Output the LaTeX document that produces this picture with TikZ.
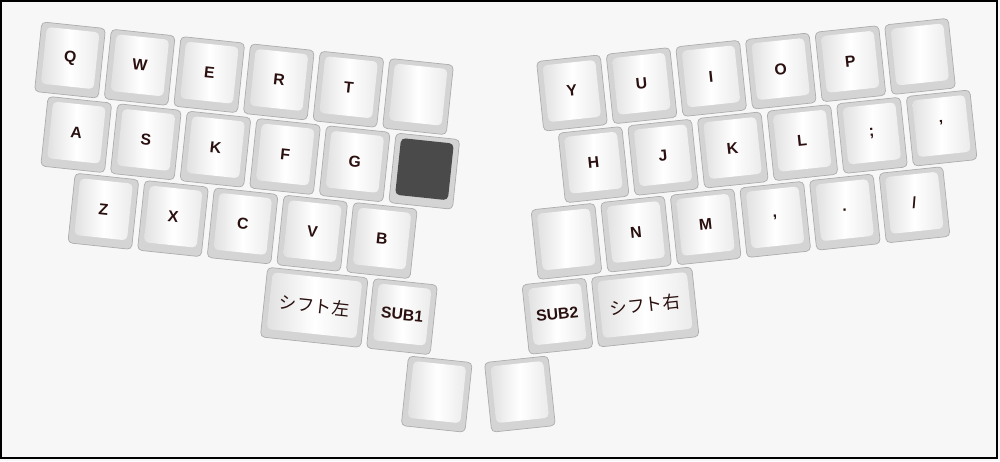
\documentclass[tikz,border=0pt]{standalone}
\usepackage{fontspec}
\setmainfont{Liberation Sans}
\newfontfamily\jpfont{Noto Sans CJK JP}
\usetikzlibrary{calc}
\definecolor{bgcol}{HTML}{F7F7F7}
\definecolor{labelcol}{HTML}{2B1010}
\definecolor{capcol}{HTML}{D4D4D4}
\definecolor{darkcol}{HTML}{4A4A4A}

\begin{document}
\begin{tikzpicture}[
      x=0.02cm, y=-0.02cm,
      keybody/.style={draw=black!32, fill=capcol, rounded corners=2.5pt, inner sep=0pt,
        minimum width=1.28cm, minimum height=1.4cm, transform shape},
      topbase/.style={rounded corners=2.5pt, inner sep=0pt, minimum width=1.06cm, minimum height=1.14cm,
        text=labelcol, font=\fontsize{9}{10}\selectfont\bfseries, transform shape},
      keytop/.style={topbase, left color=black!12, right color=black!8, middle color=white},
      wide/.style={minimum width=2.02cm},
      widetop/.style={minimum width=1.8cm, font=\fontsize{10}{11}\selectfont\jpfont},
      darktop/.style={topbase, fill=darkcol}
    ]
    \useasboundingbox (0,0) rectangle (1000,461);
    \fill[bgcol] (0,0) rectangle (1000,461);
    \draw[line width=1.2pt] (1,1) rectangle (997,458);
    % left half
    \begin{scope}[shift={(70,60)}, rotate=-6, x=1.4cm, y=-1.47cm]
      \foreach \lbl [count=\i from 0] in {Q,W,E,R,T,{}} {
        \node[keybody] (L0-\i) at (\i,0) {};
        \node[keytop] (L0-\i-top) at ($(L0-\i.center)!0.04cm!(L0-\i.north)$) {\lbl};
      }
      \foreach \lbl [count=\i from 0] in {A,S,K,F,G} {
        \node[keybody] (L1-\i) at (\i+0.2,1) {};
        \node[keytop] (L1-\i-top) at ($(L1-\i.center)!0.04cm!(L1-\i.north)$) {\lbl};
      }
      \node[keybody] (L1-5) at (5.2,1) {};
      \node[darktop] (L1-5-top) at ($(L1-5.center)!0.04cm!(L1-5.north)$) {};
      \foreach \lbl [count=\i from 0] in {Z,X,C,V,B} {
        \node[keybody] (L2-\i) at (\i+0.7,2) {};
        \node[keytop] (L2-\i-top) at ($(L2-\i.center)!0.04cm!(L2-\i.north)$) {\lbl};
      }
      \node[keybody, wide] (shiftL) at (3.84,3) {};
      \node[keytop, widetop] (shiftL-top) at ($(shiftL.center)!0.04cm!(shiftL.north)$) {シフト左};
      \node[keybody] (sub1) at (5.1,3) {};
      \node[keytop] (sub1-top) at ($(sub1.center)!0.04cm!(sub1.north)$) {SUB1};
      \node[keybody] (thumbL) at (5.71,4) {};
      \node[keytop] (thumbL-top) at ($(thumbL.center)!0.04cm!(thumbL.north)$) {};
    \end{scope}
    % right half
    \begin{scope}[shift={(572,93)}, rotate=6, x=1.4cm, y=-1.47cm]
      \foreach \lbl [count=\i from 0] in {Y,U,I,O,P,{}} {
        \node[keybody] (R0-\i) at (\i,0) {};
        \node[keytop] (R0-\i-top) at ($(R0-\i.center)!0.04cm!(R0-\i.north)$) {\lbl};
      }
      \foreach \lbl [count=\i from 0] in {H,J,K,L,;,'} {
        \node[keybody] (R1-\i) at (\i+0.2,1) {};
        \node[keytop] (R1-\i-top) at ($(R1-\i.center)!0.04cm!(R1-\i.north)$) {\lbl};
      }
      \foreach \lbl [count=\i from 0] in {{},N,M,{,},.,/} {
        \node[keybody] (R2-\i) at (\i-0.3,2) {};
        \node[keytop] (R2-\i-top) at ($(R2-\i.center)!0.04cm!(R2-\i.north)$) {\lbl};
      }
      \node[keybody] (sub2) at (-0.54,3) {};
      \node[keytop] (sub2-top) at ($(sub2.center)!0.04cm!(sub2.north)$) {SUB2};
      \node[keybody, wide] (shiftR) at (0.72,3) {};
      \node[keytop, widetop] (shiftR-top) at ($(shiftR.center)!0.04cm!(shiftR.north)$) {シフト右};
      \node[keybody] (thumbR) at (-1.19,4) {};
      \node[keytop] (thumbR-top) at ($(thumbR.center)!0.04cm!(thumbR.north)$) {};
    \end{scope}
    \end{tikzpicture}
\end{document}
